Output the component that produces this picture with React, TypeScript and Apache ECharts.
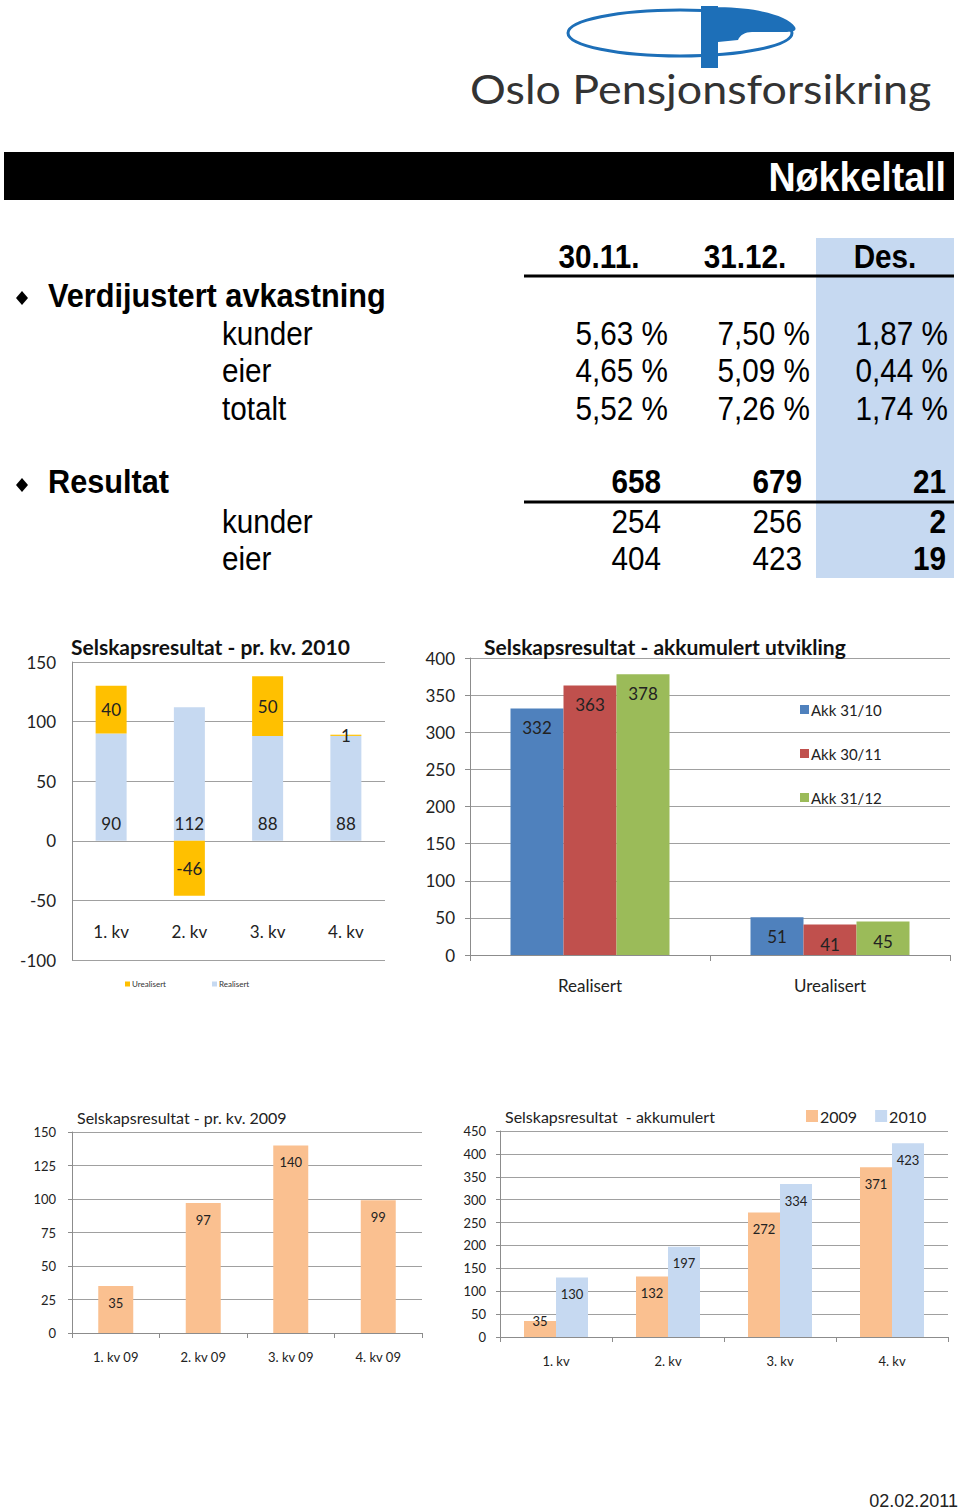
import React, { useEffect, useRef } from 'react';
import * as echarts from 'echarts';

// ---------- data ----------
const tableHeaders = ['30.11.', '31.12.', 'Des.'];
const avkLabels = ['kunder', 'eier', 'totalt'];
const avkValues = [
  ['5,63 %', '7,50 %', '1,87 %'],
  ['4,65 %', '5,09 %', '0,44 %'],
  ['5,52 %', '7,26 %', '1,74 %'],
];
const resultatTotal = ['658', '679', '21'];
const resLabels = ['kunder', 'eier'];
const resValues = [
  ['254', '256', '2'],
  ['404', '423', '19'],
];

const quarters2010 = ['1. kv', '2. kv', '3. kv', '4. kv'];
const realisert2010 = [90, 112, 88, 88];
const urealisert2010 = [40, -46, 50, 1];

const akkCategories = ['Realisert', 'Urealisert'];
const akk3110 = [332, 51];
const akk3011 = [363, 41];
const akk3112 = [378, 45];

const quarters2009 = ['1. kv 09', '2. kv 09', '3. kv 09', '4. kv 09'];
const result2009 = [35, 97, 140, 99];

const quartersAkk = ['1. kv', '2. kv', '3. kv', '4. kv'];
const akk2009 = [35, 132, 272, 371];
const akk2010 = [130, 197, 334, 423];

// ---------- styles ----------
const CF = 'Lato, "Open Sans", sans-serif';
const TF = '"Liberation Sans", Arial, sans-serif';
const LIGHTBLUE = '#c6d9f1';
const ORANGE = '#fac090';
const GOLD = '#ffc000';
const GRID = '#a0a0a0';
const AXIS = '#8c8c8c';
const LOGO_BLUE = '#1d6fb8';

const SX = 0.9;

function txt(text: string, x: number, y: number, size: number, bold: boolean, align: string, sx = SX, color = '#000') {
  return {
    type: 'text',
    x,
    y,
    scaleX: sx,
    style: {
      text,
      x: 0,
      y: 0,
      fill: color,
      font: `${bold ? 'bold ' : ''}${size}px ${TF}`,
      align,
      verticalAlign: 'middle',
    },
  };
}

function diamond(cx: number, cy: number) {
  return {
    type: 'polygon',
    shape: { points: [[cx, cy - 7], [cx + 6, cy], [cx, cy + 7], [cx - 6, cy]] },
    style: { fill: '#000' },
  };
}

export default function App() {
  const ref = useRef<HTMLDivElement>(null);

  useEffect(() => {
    document.body.style.margin = '0';
    echarts.graphic.registerShape(
      'logo',
      echarts.graphic.extendPath(
        'M 702 8 C 742 5, 786 13, 795 27 C 797 31, 793 32, 787 32 L 752 32 C 745 32, 740 35, 738 40 L 718 42 L 718 26 L 702 26 Z',
        {}
      )
    );
    const chart = echarts.init(ref.current!, null, { renderer: 'svg' });

    const colCenters = [599, 745, 885];
    const colRightsPct = [668, 810, 948];
    const colRightsNum = [661, 802, 946];
    const avkY = [334, 371, 409];
    const resY = [522, 559];

    const graphics: any[] = [
      // logo
      {
        type: 'ellipse',
        shape: { cx: 680, cy: 33, rx: 112, ry: 23 },
        style: { fill: 'none', stroke: LOGO_BLUE, lineWidth: 3 },
      },
      { type: 'logo', x: 0, y: 0, style: { fill: LOGO_BLUE } },
      { type: 'rect', shape: { x: 701, y: 6, width: 17, height: 62 }, style: { fill: LOGO_BLUE } },
      {
        type: 'text',
        x: 470,
        y: 88,
        scaleX: 1.12,
        style: { text: 'Oslo Pensjonsforsikring', x: 0, y: 0, fill: '#333', font: `40px ${CF}`, align: 'left', verticalAlign: 'middle' },
      },
      // banner
      { type: 'rect', shape: { x: 4, y: 152, width: 950, height: 48 }, style: { fill: '#000' } },
      txt('Nøkkeltall', 946, 177, 40, true, 'right', 0.94, '#fff'),
      // highlighted column
      { type: 'rect', shape: { x: 816, y: 238, width: 138, height: 340 }, style: { fill: LIGHTBLUE } },
      // header rule lines
      { type: 'line', shape: { x1: 524, y1: 276, x2: 954, y2: 276 }, style: { stroke: '#000', lineWidth: 3 } },
      { type: 'line', shape: { x1: 524, y1: 502, x2: 954, y2: 502 }, style: { stroke: '#000', lineWidth: 3 } },
      diamond(22, 298),
      txt('Verdijustert avkastning', 48, 296, 33, true, 'left', 0.93),
      diamond(22, 485),
      txt('Resultat', 48, 482, 33, true, 'left', 0.93),
      // date
      {
        type: 'text',
        x: 958,
        y: 1501,
        style: { text: '02.02.2011', fill: '#222', font: `18px ${TF}`, align: 'right', verticalAlign: 'middle' },
      },
    ];
    tableHeaders.forEach((h, i) => graphics.push(txt(h, colCenters[i], 257, 33, true, 'center')));
    avkLabels.forEach((l, r) => {
      graphics.push(txt(l, 222, avkY[r], 33, false, 'left'));
      avkValues[r].forEach((v, c) => graphics.push(txt(v, colRightsPct[c], avkY[r], 33, false, 'right')));
    });
    resultatTotal.forEach((v, c) => graphics.push(txt(v, colRightsNum[c], 482, 33, true, 'right')));
    resLabels.forEach((l, r) => {
      graphics.push(txt(l, 222, resY[r], 33, false, 'left'));
      resValues[r].forEach((v, c) => graphics.push(txt(v, colRightsNum[c], resY[r], 33, c === 2, 'right')));
    });

    const yLabel = (size: number, margin: number) => ({ fontSize: size, color: '#222', fontFamily: CF, margin });
    const split = { show: true, lineStyle: { color: GRID, width: 1.2 } };

    chart.setOption({
      animation: false,
      textStyle: { fontFamily: CF },
      title: [
        { text: 'Selskapsresultat - pr. kv. 2010', left: 71, top: 636, padding: 0, textStyle: { fontSize: 21, fontWeight: 'bold', color: '#111', fontFamily: CF } },
        { text: 'Selskapsresultat - akkumulert utvikling', left: 484, top: 636, padding: 0, textStyle: { fontSize: 21, fontWeight: 'bold', color: '#111', fontFamily: CF } },
        { text: 'Selskapsresultat - pr. kv. 2009', left: 77, top: 1109, padding: 0, textStyle: { fontSize: 16, fontWeight: 'normal', color: '#222', fontFamily: CF } },
        { text: 'Selskapsresultat  - akkumulert', left: 505, top: 1108, padding: 0, textStyle: { fontSize: 16, fontWeight: 'normal', color: '#222', fontFamily: CF } },
      ],
      legend: [
        {
          data: ['Urealisert', 'Realisert'],
          left: 125, top: 980, padding: 0, itemWidth: 5, itemHeight: 5, itemGap: 46, icon: 'rect',
          textStyle: { fontSize: 8, color: '#333', fontFamily: CF, padding: [0, 0, 0, -3] },
        },
        {
          data: ['Akk 31/10', 'Akk 30/11', 'Akk 31/12'],
          orient: 'vertical', left: 800, top: 702, padding: 0, itemWidth: 9, itemHeight: 9, itemGap: 29, icon: 'rect',
          textStyle: { fontSize: 15, color: '#222', fontFamily: CF, padding: [0, 0, 0, -3] },
        },
        {
          data: ['2009', '2010'],
          left: 806, top: 1108, padding: 0, itemWidth: 12, itemHeight: 12, itemGap: 18, icon: 'rect',
          textStyle: { fontSize: 16, color: '#222', fontFamily: CF, padding: [0, 0, 0, -3] },
        },
      ],
      grid: [
        { left: 72, top: 662, width: 313, height: 298 },
        { left: 470, top: 658, width: 480, height: 297 },
        { left: 72, top: 1132, width: 350, height: 201 },
        { left: 500, top: 1131, width: 448, height: 206 },
      ],
      xAxis: [
        {
          type: 'category', gridIndex: 0, data: quarters2010,
          axisLine: { show: false, onZero: false }, axisTick: { show: false },
          axisLabel: { inside: true, margin: 20, fontSize: 17, color: '#222', fontFamily: CF },
        },
        {
          type: 'category', gridIndex: 1, data: akkCategories,
          axisLine: { show: true, onZero: false, lineStyle: { color: AXIS } },
          axisTick: { show: true, length: 6, lineStyle: { color: AXIS } },
          axisLabel: { margin: 22, fontSize: 17, color: '#222', fontFamily: CF },
        },
        {
          type: 'category', gridIndex: 2, data: quarters2009,
          axisLine: { show: true, onZero: false, lineStyle: { color: AXIS } },
          axisTick: { show: true, length: 5, lineStyle: { color: AXIS } },
          axisLabel: { margin: 17, fontSize: 13, color: '#222', fontFamily: CF },
        },
        {
          type: 'category', gridIndex: 3, data: quartersAkk,
          axisLine: { show: true, onZero: false, lineStyle: { color: AXIS } },
          axisTick: { show: true, length: 5, lineStyle: { color: AXIS } },
          axisLabel: { margin: 17, fontSize: 13, color: '#222', fontFamily: CF },
        },
      ],
      yAxis: [
        {
          type: 'value', gridIndex: 0, min: -100, max: 150, interval: 50,
          axisLine: { show: true, lineStyle: { color: AXIS } }, axisTick: { show: false },
          axisLabel: yLabel(17, 16), splitLine: split,
        },
        {
          type: 'value', gridIndex: 1, min: 0, max: 400, interval: 50,
          axisLine: { show: true, lineStyle: { color: AXIS } }, axisTick: { show: true, length: 5, lineStyle: { color: AXIS } },
          axisLabel: yLabel(17, 15), splitLine: split,
        },
        {
          type: 'value', gridIndex: 2, min: 0, max: 150, interval: 25,
          axisLine: { show: true, lineStyle: { color: AXIS } }, axisTick: { show: true, length: 4, lineStyle: { color: AXIS } },
          axisLabel: yLabel(13, 16), splitLine: split,
        },
        {
          type: 'value', gridIndex: 3, min: 0, max: 450, interval: 50,
          axisLine: { show: true, lineStyle: { color: AXIS } }, axisTick: { show: true, length: 4, lineStyle: { color: AXIS } },
          axisLabel: yLabel(13, 14), splitLine: split,
        },
      ],
      series: [
        {
          name: 'Realisert', type: 'bar', xAxisIndex: 0, yAxisIndex: 0, stack: 'q2010',
          data: realisert2010, barWidth: 31, itemStyle: { color: LIGHTBLUE },
          label: { show: true, position: 'insideBottom', distance: 9, fontSize: 17, color: '#222', fontFamily: CF },
        },
        {
          name: 'Urealisert', type: 'bar', xAxisIndex: 0, yAxisIndex: 0, stack: 'q2010',
          data: urealisert2010, barWidth: 31, itemStyle: { color: GOLD },
          label: { show: true, position: 'inside', fontSize: 17, color: '#222', fontFamily: CF },
        },
        {
          name: 'Akk 31/10', type: 'bar', xAxisIndex: 1, yAxisIndex: 1, data: akk3110,
          barWidth: 53, barGap: '0%', itemStyle: { color: '#4f81bd' },
          label: { show: true, position: 'insideTop', distance: 11, fontSize: 17, color: '#222', fontFamily: CF },
        },
        {
          name: 'Akk 30/11', type: 'bar', xAxisIndex: 1, yAxisIndex: 1, data: akk3011,
          barWidth: 53, barGap: '0%', itemStyle: { color: '#c0504d' },
          label: { show: true, position: 'insideTop', distance: 11, fontSize: 17, color: '#222', fontFamily: CF },
        },
        {
          name: 'Akk 31/12', type: 'bar', xAxisIndex: 1, yAxisIndex: 1, data: akk3112,
          barWidth: 53, barGap: '0%', itemStyle: { color: '#9bbb59' },
          label: { show: true, position: 'insideTop', distance: 11, fontSize: 17, color: '#222', fontFamily: CF },
        },
        {
          name: 'Resultat 2009', type: 'bar', xAxisIndex: 2, yAxisIndex: 2, data: result2009,
          barWidth: 35, itemStyle: { color: ORANGE },
          label: { show: true, position: 'insideTop', distance: 10, fontSize: 13, color: '#222', fontFamily: CF },
        },
        {
          name: '2009', type: 'bar', xAxisIndex: 3, yAxisIndex: 3,
          data: akk2009.map((v, i) => (i === 0 ? { value: v, label: { distance: -6 } } : v)),
          barWidth: 32, barGap: '0%', itemStyle: { color: ORANGE },
          label: { show: true, position: 'insideTop', distance: 10, fontSize: 13, color: '#222', fontFamily: CF },
        },
        {
          name: '2010', type: 'bar', xAxisIndex: 3, yAxisIndex: 3, data: akk2010,
          barWidth: 32, barGap: '0%', itemStyle: { color: LIGHTBLUE },
          label: { show: true, position: 'insideTop', distance: 10, fontSize: 13, color: '#222', fontFamily: CF },
        },
      ],
      graphic: graphics,
    });

    return () => chart.dispose();
  }, []);

  return <div ref={ref} style={{ position: 'absolute', left: 0, top: 0, width: 960, height: 1512, background: '#fff' }} />;
}
